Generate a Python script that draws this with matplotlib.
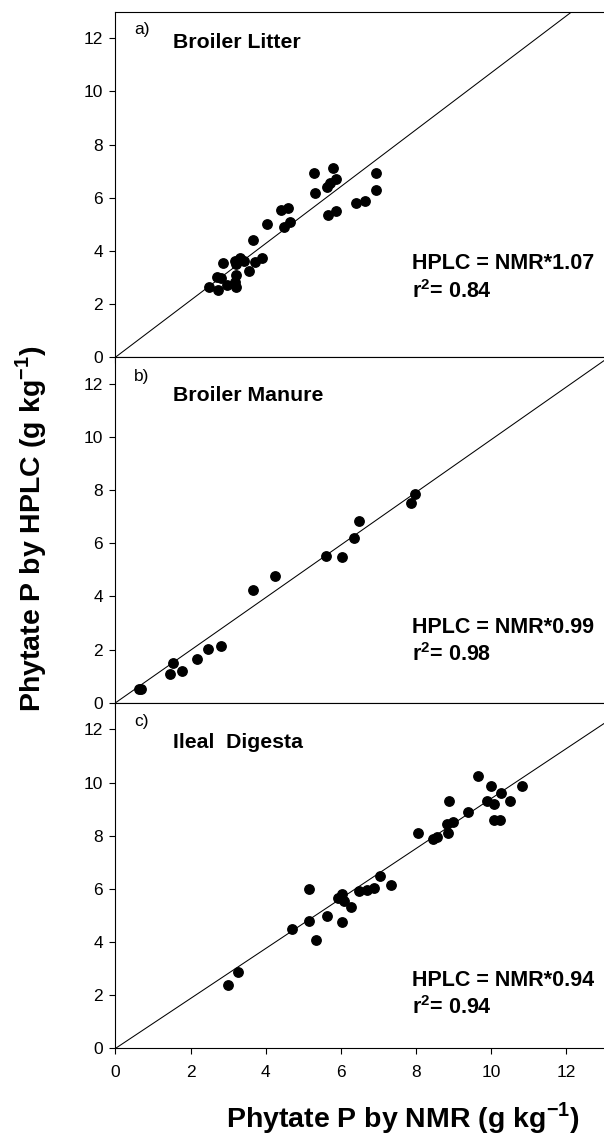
import numpy as np
import matplotlib
matplotlib.use("Agg")
import matplotlib.pyplot as plt

plt.rcParams['font.family'] = ['Liberation Sans', 'DejaVu Sans']
plt.rcParams['mathtext.fontset'] = 'custom'
plt.rcParams['mathtext.rm'] = 'Liberation Sans'
plt.rcParams['mathtext.bf'] = 'Liberation Sans:bold'

# Broiler litter
x_litter = [5.27, 5.80, 5.88, 5.70, 5.63, 5.32, 6.92, 6.92, 6.39, 6.64, 5.65, 5.87,
            4.41, 4.59, 4.49, 4.64, 4.04, 3.67, 3.89, 3.72, 3.55, 3.18, 3.31, 3.42,
            3.22, 2.87, 3.22, 2.71, 2.82, 3.18, 2.49, 2.73, 2.96, 3.20]
y_litter = [6.94, 7.11, 6.72, 6.54, 6.39, 6.19, 6.94, 6.30, 5.80, 5.89, 5.34, 5.51,
            5.53, 5.60, 4.89, 5.08, 5.00, 4.40, 3.73, 3.58, 3.25, 3.61, 3.73, 3.63,
            3.51, 3.55, 3.11, 3.01, 2.96, 2.83, 2.63, 2.51, 2.71, 2.63]

# Broiler manure
x_manure = [0.62, 0.68, 1.45, 1.52, 1.78, 2.18, 2.45, 2.81, 3.67, 4.24, 5.60, 6.03,
            6.34, 6.48, 7.87, 7.97]
y_manure = [0.52, 0.52, 1.10, 1.50, 1.21, 1.64, 2.02, 2.12, 4.24, 4.77, 5.53, 5.49,
            6.19, 6.84, 7.50, 7.86]

# Ileal digesta
x_digesta = [2.99, 3.25, 4.71, 5.14, 5.34, 5.16, 5.63, 6.03, 5.93, 6.04, 6.08, 6.28,
             6.48, 6.68, 6.88, 7.03, 7.33, 8.05, 8.45, 8.56, 8.86, 8.81, 8.98, 8.87,
             9.39, 9.64, 9.99, 9.89, 10.07, 10.07, 10.24, 10.25, 10.51, 10.82]
y_digesta = [2.37, 2.86, 4.51, 4.81, 4.06, 5.98, 4.99, 4.74, 5.67, 5.79, 5.54, 5.31,
             5.91, 5.94, 6.05, 6.50, 6.15, 8.11, 7.88, 7.97, 8.11, 8.45, 8.53, 9.29,
             8.91, 10.26, 9.86, 9.29, 9.20, 8.60, 8.60, 9.61, 9.30, 9.86]

letters = ['a)', 'b)', 'c)']
titles = ['Broiler Litter', 'Broiler Manure', 'Ileal  Digesta']
slopes = [1.07, 0.99, 0.94]
r2 = [0.84, 0.98, 0.94]
ticks = [0, 2, 4, 6, 8, 10, 12]

# text positions (data units) per panel
letter_y = [12.33, 12.27, 12.31]
title_y = [11.82, 11.57, 11.50]
eq_y = [3.51, 2.85, 2.56]

panels = [(x_litter, y_litter), (x_manure, y_manure), (x_digesta, y_digesta)]

fig = plt.figure(figsize=(6.04, 11.35), dpi=100)

left = 0.1912
h = 0.3045
bottoms = [0.0763 + 2 * h, 0.0763 + h, 0.0763]

for i in range(3):
    ax = fig.add_axes([left, bottoms[i], 1 - left, h])
    xs, ys = panels[i]
    ax.scatter(xs, ys, s=46, color='black', zorder=3)
    xl = np.array([0, 13])
    ax.plot(xl, xl * slopes[i], color='black', lw=0.75)

    ax.set_xlim(0, 13)
    ax.set_ylim(0, 13)
    ax.set_xticks(ticks)
    ax.set_yticks(ticks)
    ax.spines['right'].set_visible(False)
    for s in ['left', 'bottom', 'top']:
        ax.spines[s].set_linewidth(0.8)
    ax.tick_params(direction='out', length=4, width=0.8, labelsize=12.5)
    ax.tick_params(axis='y', pad=5)
    ax.tick_params(axis='x', pad=8)
    if i < 2:
        ax.tick_params(axis='x', labelbottom=False)

    ax.text(0.49, letter_y[i], letters[i], fontsize=12.5, va='center', ha='left')
    ax.text(1.54, title_y[i], titles[i], fontsize=15.3, fontweight='bold', va='center', ha='left')
    ax.text(7.88, eq_y[i], 'HPLC = NMR*%.2f' % slopes[i], fontsize=15.5, fontweight='bold',
            va='center', ha='left')
    ax.text(7.88, eq_y[i] - 1.03, 'r$^{\\mathbf{2}}$= %.2f' % r2[i], fontsize=15.5,
            fontweight='bold', va='center', ha='left')

fig.text(0.052, 0.534, 'Phytate P by HPLC (g kg$^{\\mathbf{-1}}$)', rotation=90,
         fontsize=20.5, fontweight='bold', ha='center', va='center')
fig.text(0.3737, 1 - 1118 / 1135, 'Phytate P by NMR (g kg$^{\\mathbf{-1}}$)',
         fontsize=20.5, fontweight='bold', ha='left', va='center')

plt.savefig('out.png', dpi=100)
